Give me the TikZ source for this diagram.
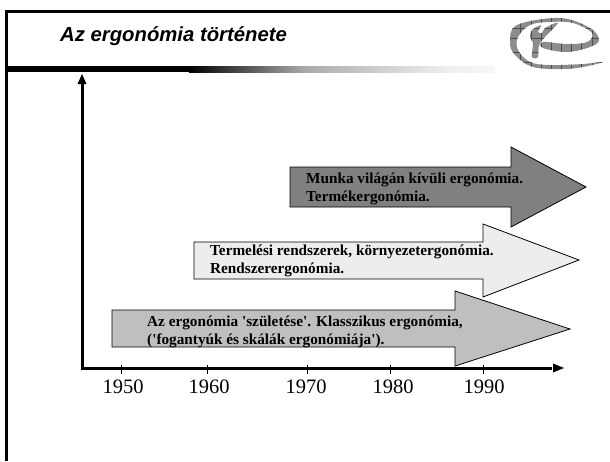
\documentclass[tikz,border=0pt]{standalone}
\usepackage{fontspec}
\setmainfont{Liberation Serif}
\newfontfamily\bodyfont{Liberation Serif}
\newfontfamily\titlefont{Liberation Sans}
\newcommand{\logogrid}{%
 \foreach \gx in {520,531,541,551,561,571,581,592} \draw[black!70,line width=0.35pt] (\gx,15) -- (\gx,72);
 \foreach \gy in {28,38,52,62} \draw[black!70,line width=0.35pt] (505,\gy) -- (606,\gy);
}
\begin{document}
\begin{tikzpicture}[x=1pt,y=-1pt,
 framed/.style={line width=2.6pt,black},
 axisline/.style={line width=3pt,black},
 tickline/.style={line width=0.8pt,black},
 blockarrow/.style={draw=black,line width=0.8pt,line join=miter},
 arrowtext/.style={font=\bodyfont\bfseries\fontsize{15.25}{17.8}\selectfont,align=left,anchor=west,inner sep=0pt},
 yearlabel/.style={font=\fontsize{20.5}{24}\selectfont,inner sep=0pt},
 logoshape/.style={fill=black!45,draw=none}]
\useasboundingbox (0,0) rectangle (610,461);
% frame
\draw[framed] (6.3,461) -- (6.3,11.3) -- (610,11.3);
% header bar
\shade[left color=black,right color=black!33] (189,66) rectangle (305,72);
\shade[left color=black!33,right color=black!6] (305,66) rectangle (450,72);
\shade[left color=black!6,right color=black!3] (450,66) rectangle (495,72);
\fill[black] (5,66) rectangle (189,72);
\node[font=\titlefont\bfseries\itshape\fontsize{20.3}{24}\selectfont,anchor=west,inner sep=0pt] (title) at (60,36) {Az ergonómia története};
% logo
\begin{scope}
\clip plot[smooth cycle,tension=0.6] coordinates {(603,62) (583,67) (563,69) (533,67) (515,55) (510,42) (517,25) (560,18) (590,28) (599,40) (590,47) (567,52) (543,48) (543,42) (567,44) (587,42) (592,33) (573,23) (550,22) (530,25) (518,37) (518,50) (530,62) (550,65) (583,64)};
\fill[logoshape] (505,15) rectangle (606,72);
\logogrid
\end{scope}
\begin{scope}
\clip plot[smooth cycle,tension=0.5] coordinates {(532,57) (538,57) (540,43) (558,23) (545,28) (542,33) (538,32) (541,25) (532,30) (530,37) (533,43)};
\fill[logoshape] (505,15) rectangle (606,72);
\logogrid
\end{scope}
% block arrows
\draw[blockarrow,fill=black!50] (290,167) -- (511,167) -- (511,147) -- (586,187) -- (511,227) -- (511,207) -- (290,207) -- cycle;
\draw[blockarrow,fill=black!7] (194,242) -- (483,242) -- (483,224) -- (579,260) -- (483,297) -- (483,279) -- (194,279) -- cycle;
\draw[blockarrow,fill=black!25] (112,310) -- (455,310) -- (455,291) -- (570,329) -- (455,366) -- (455,347) -- (112,347) -- cycle;
\node[arrowtext] (t1) at (306,188.5) {Munka világán kívüli ergonómia.\\Termékergonómia.};
\node[arrowtext] (t2) at (210,261) {Termelési rendszerek, környezetergonómia.\\Rendszerergonómia.};
\node[arrowtext] (t3) at (147,332) {Az ergonómia 'születése'. Klasszikus ergonómia,\\('fogantyúk és skálák ergonómiája').};
% axes
\coordinate (origin) at (82,368);
\coordinate (ytop) at (82,74);
\coordinate (xend) at (564,368);
\draw[axisline] (origin) -- (82,84);
\fill[black] (ytop) -- (86.5,84) -- (77.5,84) -- cycle;
\draw[axisline] (80.5,368) -- (552,368);
\fill[black] (xend) -- (553,363.5) -- (553,372.5) -- cycle;
\foreach \x in {121,207,307,390,483} \draw[tickline] (\x,365) -- (\x,374);
\node[yearlabel] (y50) at (123,387) {1950};
\node[yearlabel] (y60) at (209,387) {1960};
\node[yearlabel] (y70) at (306,387) {1970};
\node[yearlabel] (y80) at (393,387) {1980};
\node[yearlabel] (y90) at (484,387) {1990};
\end{tikzpicture}
\end{document}
